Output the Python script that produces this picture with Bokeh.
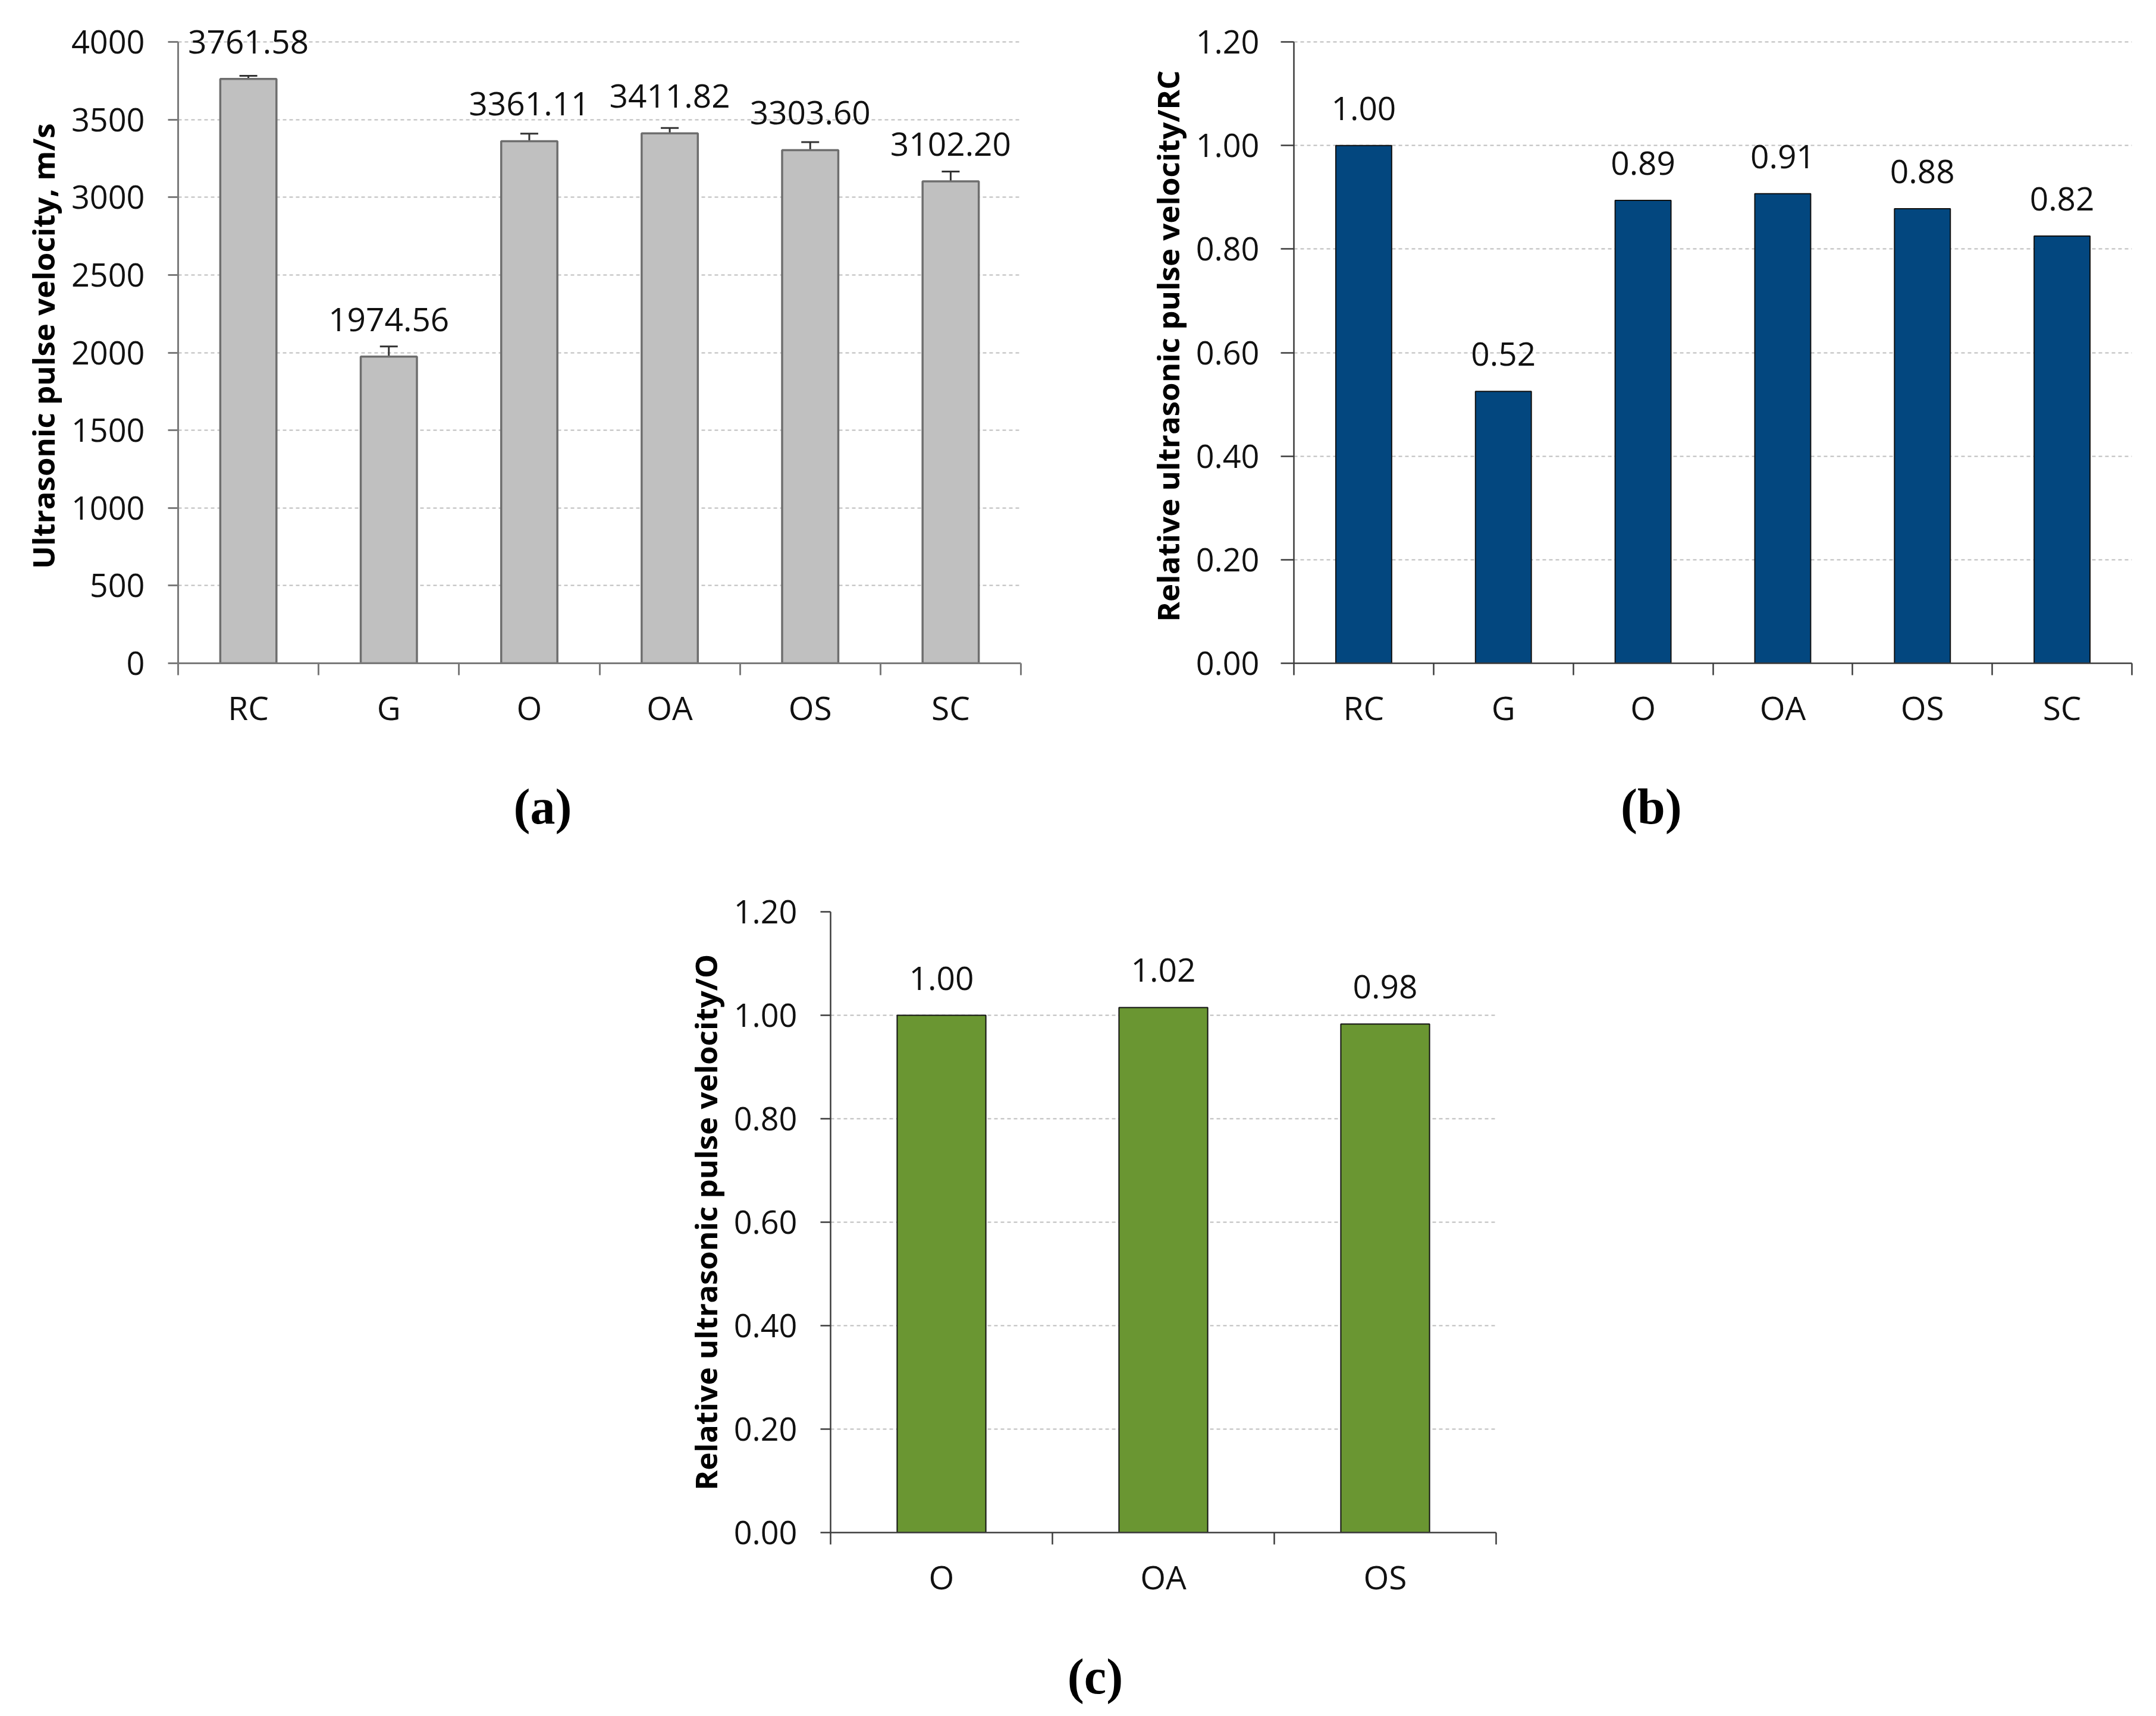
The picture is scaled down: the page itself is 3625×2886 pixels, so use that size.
from bokeh.plotting import figure
from bokeh.models import (ColumnDataSource, Range1d, FixedTicker, LabelSet,
                          Whisker, TeeHead, NumeralTickFormatter, Spacer)
from bokeh.layouts import column, row
from bokeh.core.properties import value
from bokeh.embed import file_html
from bokeh.resources import INLINE

# ---------------- data ----------------
cats_a = ["RC", "G", "O", "OA", "OS", "SC"]
upv_a = [3761.58, 1974.56, 3361.11, 3411.82, 3303.60, 3102.20]
err_a = [20, 65, 48, 34, 51, 63]
lbl_a = ["3761.58", "1974.56", "3361.11", "3411.82", "3303.60", "3102.20"]
yticks_a = [0, 500, 1000, 1500, 2000, 2500, 3000, 3500, 4000]

cats_b = ["RC", "G", "O", "OA", "OS", "SC"]
rel_b = [1.00, 0.525, 0.894, 0.907, 0.878, 0.825]
lbl_b = ["1.00", "0.52", "0.89", "0.91", "0.88", "0.82"]

cats_c = ["O", "OA", "OS"]
rel_c = [1.00, 1.015, 0.983]
lbl_c = ["1.00", "1.02", "0.98"]

yticks_rel = [0.0, 0.2, 0.4, 0.6, 0.8, 1.0, 1.2]

FONT = "Open Sans"
XAXIS_BORDER = 125


def panel(cats, vals, labels, ymax, yticks, fmt, ytitle, fill, bar_line, bar_lw,
          axis_color, axis_lw, fw, fh, bl, br, bt, err=None, ytick_out=17,
          ylab_standoff=39, extend_px=0):
    n = len(cats)
    xs = [i + 0.5 for i in range(n)]
    data = dict(x=xs, v=vals, lab=labels)
    if err is not None:
        data["up"] = [v + e for v, e in zip(vals, err)]
        data["lo"] = [v - e for v, e in zip(vals, err)]
    src = ColumnDataSource(data)

    # the frame may reach a little above the top gridline so that value labels
    # there are not clipped; the y axis itself stops at ymax (bounds)
    yend = ymax * (fh + extend_px) / fh

    p = figure(frame_width=fw, frame_height=fh + extend_px,
               min_border_left=bl, min_border_right=br,
               min_border_top=bt - extend_px, min_border_bottom=XAXIS_BORDER,
               x_range=Range1d(0, n), y_range=Range1d(0, yend),
               output_backend="svg", toolbar_location=None, tools="")
    p.outline_line_color = None
    p.background_fill_color = "white"
    p.border_fill_color = "white"

    p.vbar(x="x", top="v", bottom=0, width=0.4, source=src,
           fill_color=fill, line_color=bar_line, line_width=bar_lw)

    if err is not None:
        w = Whisker(source=src, base="x", upper="up", lower="lo",
                    line_color="#333333", line_width=3,
                    upper_head=TeeHead(size=30, line_color="#333333", line_width=3),
                    lower_head=TeeHead(size=30, line_color="#333333", line_width=3))
        p.add_layout(w)

    ls = LabelSet(x="x", y="v", text="lab", source=src, y_offset=43,
                  text_align="center", text_baseline="alphabetic",
                  text_font=value(FONT), text_font_size="55px", text_color="#111111")
    p.add_layout(ls)

    # grid
    p.xgrid.visible = False
    p.ygrid.ticker = FixedTicker(ticks=yticks)
    p.ygrid.grid_line_color = "#bdbdbd"
    p.ygrid.grid_line_dash = "6 5"
    p.ygrid.grid_line_width = 2

    # x axis: labels at category centres, ticks at category boundaries
    xa = p.xaxis[0]
    xa.ticker = FixedTicker(ticks=xs, minor_ticks=list(range(n + 1)))
    xa.major_label_overrides = {x: c for x, c in zip(xs, cats)}
    xa.major_tick_in = 0
    xa.major_tick_out = 0
    xa.minor_tick_in = 0
    xa.minor_tick_out = 20
    xa.minor_tick_line_color = axis_color
    xa.minor_tick_line_width = axis_lw
    xa.axis_line_color = axis_color
    xa.axis_line_width = axis_lw
    xa.major_label_standoff = 16
    xa.major_label_text_font = FONT
    xa.major_label_text_font_size = "55px"
    xa.major_label_text_color = "#111111"

    ya = p.yaxis[0]
    ya.ticker = FixedTicker(ticks=yticks)
    ya.bounds = (0, ymax)
    ya.formatter = fmt
    ya.major_tick_in = 0
    ya.major_tick_out = ytick_out
    ya.major_tick_line_color = axis_color
    ya.major_tick_line_width = axis_lw
    ya.minor_tick_line_color = None
    ya.axis_line_color = axis_color
    ya.axis_line_width = axis_lw
    ya.major_label_standoff = ylab_standoff
    ya.major_label_text_font = FONT
    ya.major_label_text_font_size = "54px"
    ya.major_label_text_color = "#111111"
    ya.axis_label = ytitle
    ya.axis_label_text_font = FONT
    ya.axis_label_text_font_style = "bold"
    ya.axis_label_text_font_size = "51px"
    ya.axis_label_text_color = "#000000"
    ya.axis_label_standoff = 10
    return p


def tag_strip(tag, n, fw, bl, br, height, tag_x, baseline_from_bottom):
    """A strip below a panel, sharing its horizontal frame, holding the (a)/(b)/(c) caption."""
    t = figure(frame_width=fw, frame_height=height,
               min_border_left=bl, min_border_right=br,
               min_border_top=0, min_border_bottom=0,
               x_range=Range1d(0, n), y_range=Range1d(0, height),
               x_axis_type=None, y_axis_type=None,
               output_backend="svg", toolbar_location=None, tools="")
    t.outline_line_color = None
    t.background_fill_color = "white"
    t.border_fill_color = "white"
    t.text(x=[tag_x], y=[baseline_from_bottom], text=[tag],
           text_font=value("Liberation Serif"), text_font_style="bold",
           text_font_size="84px", text_color="#000000",
           text_align="center", text_baseline="alphabetic")
    return t


# panel (a): frame x 299..1716, y 70..1115
fa = panel(cats_a, upv_a, lbl_a, 4000, yticks_a, NumeralTickFormatter(format="0"),
           "Ultrasonic pulse velocity, m/s", "#c0c0c0", "#6e6e6e", 3.5,
           "#7a7a7a", 3, 1417, 1045, 299, 96, 70, err=err_a,
           ytick_out=17, ylab_standoff=39, extend_px=22)
ta = tag_strip("(a)", 6, 1417, 299, 96, 1450 - 70 - 1045 - XAXIS_BORDER, 2.596, 94)

# panel (b): frame x 2175..3584, y 70..1115
fb = panel(cats_b, rel_b, lbl_b, 1.2, yticks_rel, NumeralTickFormatter(format="0.00"),
           "Relative ultrasonic pulse velocity/RC", "#03477f", "#111111", 2,
           "#3c3c3c", 2.5, 1409, 1045, 363, 41, 70,
           ytick_out=22, ylab_standoff=36, extend_px=22)
tb = tag_strip("(b)", 6, 1409, 363, 41, 1450 - 70 - 1045 - XAXIS_BORDER, 2.559, 94)

# panel (c): frame x 1396..2515, y 1533..2577
fc = panel(cats_c, rel_c, lbl_c, 1.2, yticks_rel, NumeralTickFormatter(format="0.00"),
           "Relative ultrasonic pulse velocity/O", "#6a9632", "#111111", 2,
           "#3c3c3c", 2.5, 1119, 1044, 396, 185, 83,
           ytick_out=17, ylab_standoff=39)
tc = tag_strip("(c)", 3, 1119, 396, 185, 2886 - 1450 - 83 - 1044 - XAXIS_BORDER, 1.193, 67)

layout = column(row(column(fa, ta), column(fb, tb)),
                row(Spacer(width=1000, height=1436), column(fc, tc)))

open("out.html", "w").write(file_html(layout, INLINE))
